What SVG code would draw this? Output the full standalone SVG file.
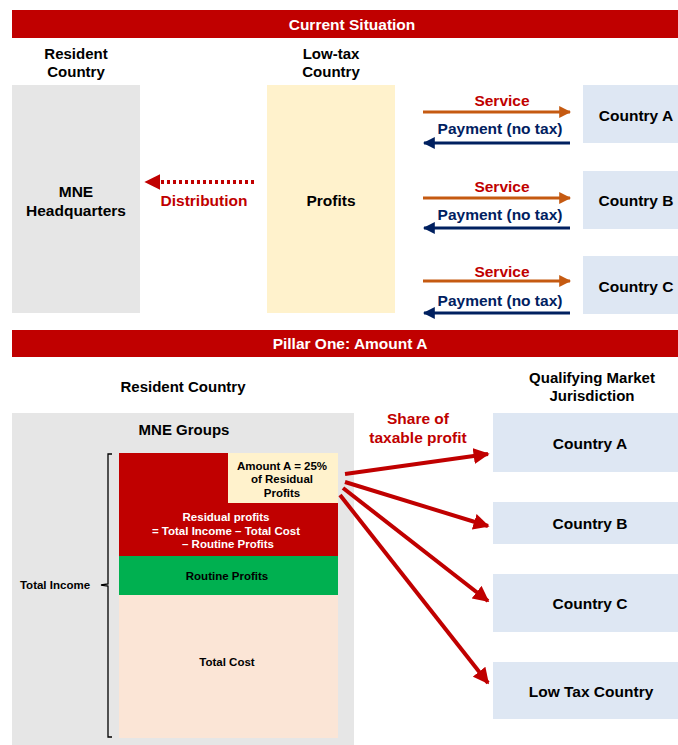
<svg xmlns="http://www.w3.org/2000/svg" width="678" height="745" viewBox="0 0 678 745">
<defs>
<style>
text{font-family:"Liberation Sans",Arial,sans-serif;font-weight:bold;text-anchor:middle;dominant-baseline:central}
.banner{fill:#C00000}
.bt{fill:#FFFFFF;font-size:15.5px}
.h{fill:#000;font-size:15px}
.lbl{fill:#000;font-size:15.5px}
.red{fill:#C00000;font-size:15.5px}
.navy{fill:#002060;font-size:15.5px}
.gray{fill:#E6E6E6}
.cty{fill:#DEE7F3}
.sm{font-size:11.5px}
</style>
<marker id="ho" viewBox="0 0 10 10" refX="9" refY="5" markerWidth="4" markerHeight="4" orient="auto" markerUnits="strokeWidth"><path d="M0,0 L10,5 L0,10 Z" fill="#C55A11"/></marker>
<marker id="hn" viewBox="0 0 10 10" refX="9" refY="5" markerWidth="4" markerHeight="4" orient="auto" markerUnits="strokeWidth"><path d="M0,0 L10,5 L0,10 Z" fill="#002060"/></marker>
<marker id="hr" viewBox="0 0 10 10" refX="9" refY="5" markerWidth="4" markerHeight="4" orient="auto" markerUnits="strokeWidth"><path d="M0,0 L10,5 L0,10 Z" fill="#C00000"/></marker>
</defs>
<rect width="678" height="745" fill="#FFFFFF"/>

<g id="banner-current">
<rect class="banner" x="12" y="10" width="666" height="28"/>
<text class="bt" x="352" y="24">Current Situation</text>
</g>
<g id="hdr-resident">
<text class="h" x="76" y="53">Resident</text>
<text class="h" x="76" y="71">Country</text>
</g>
<g id="hdr-lowtax">
<text class="h" x="331" y="53">Low-tax</text>
<text class="h" x="331" y="71">Country</text>
</g>
<g id="mne-hq">
<rect class="gray" x="12" y="85" width="128" height="228"/>
<text class="lbl" x="76" y="191">MNE</text>
<text class="lbl" x="76" y="210">Headquarters</text>
</g>
<g id="profits">
<rect fill="#FFF2CC" x="267" y="85" width="128" height="228"/>
<text class="lbl" x="331" y="200">Profits</text>
</g>
<g id="country-a-top">
<rect class="cty" x="583" y="85" width="95" height="58"/>
<text class="lbl" x="636" y="115">Country A</text>
</g>
<g id="country-b-top">
<rect class="cty" x="583" y="171" width="95" height="58"/>
<text class="lbl" x="636" y="200">Country B</text>
</g>
<g id="country-c-top">
<rect class="cty" x="583" y="256" width="95" height="58"/>
<text class="lbl" x="636" y="286">Country C</text>
</g>

<g id="connectors-top">
<line x1="254" y1="182" x2="146" y2="182" stroke="#C00000" stroke-width="4" stroke-dasharray="3,3" marker-end="url(#hr)"/>
<line x1="423" y1="112" x2="570" y2="112" stroke="#C55A11" stroke-width="3" marker-end="url(#ho)"/>
<line x1="570" y1="143" x2="424" y2="143" stroke="#002060" stroke-width="3" marker-end="url(#hn)"/>
<line x1="423" y1="198" x2="570" y2="198" stroke="#C55A11" stroke-width="3" marker-end="url(#ho)"/>
<line x1="570" y1="228" x2="424" y2="228" stroke="#002060" stroke-width="3" marker-end="url(#hn)"/>
<line x1="423" y1="281" x2="570" y2="281" stroke="#C55A11" stroke-width="3" marker-end="url(#ho)"/>
<line x1="570" y1="313" x2="424" y2="313" stroke="#002060" stroke-width="3" marker-end="url(#hn)"/>
<text class="red" x="204" y="200">Distribution</text>
<text class="red" x="502" y="100">Service</text>
<text class="navy" x="500" y="128">Payment (no tax)</text>
<text class="red" x="502" y="186">Service</text>
<text class="navy" x="500" y="214">Payment (no tax)</text>
<text class="red" x="502" y="271">Service</text>
<text class="navy" x="500" y="300">Payment (no tax)</text>
</g>

<g id="banner-pillar">
<rect class="banner" x="12" y="330" width="666" height="27"/>
<text class="bt" x="350" y="343">Pillar One: Amount A</text>
</g>
<g id="hdr-resident2">
<text class="h" x="183" y="386">Resident Country</text>
</g>
<g id="hdr-qmj">
<text class="h" x="592" y="377">Qualifying Market</text>
<text class="h" x="592" y="395">Jurisdiction</text>
</g>
<g id="mne-groups">
<rect class="gray" x="12" y="413" width="342" height="332"/>
<text class="h" x="184" y="429">MNE Groups</text>
<rect fill="#C00000" x="119" y="453" width="219" height="103"/>
<rect fill="#FFF2CC" x="228" y="453" width="110" height="50"/>
<text class="sm" fill="#000" x="282" y="466">Amount A = 25%</text>
<text class="sm" fill="#000" x="282" y="479">of Residual</text>
<text class="sm" fill="#000" x="282" y="493">Profits</text>
<text class="sm" fill="#FFFFFF" x="226" y="517">Residual profits</text>
<text class="sm" fill="#FFFFFF" x="226" y="531">= Total Income  – Total Cost</text>
<text class="sm" fill="#FFFFFF" x="228" y="544">– Routine  Profits</text>
<rect fill="#00B050" x="119" y="556" width="219" height="39"/>
<text class="sm" fill="#000" x="227" y="576">Routine  Profits</text>
<rect fill="#FBE5D6" x="119" y="595" width="219" height="143"/>
<text class="sm" fill="#000" x="227" y="662">Total Cost</text>
<path d="M112,454 H108 V584 L101,585 L108,586 V737 H112" fill="none" stroke="#000" stroke-width="1.3"/>
<text class="sm" fill="#000" x="55" y="585">Total Income</text>
</g>
<g id="qmj-a">
<rect class="cty" x="493" y="413" width="185" height="59"/>
<text class="lbl" x="590" y="443">Country A</text>
</g>
<g id="qmj-b">
<rect class="cty" x="493" y="502" width="185" height="42"/>
<text class="lbl" x="590" y="523">Country B</text>
</g>
<g id="qmj-c">
<rect class="cty" x="493" y="574" width="185" height="58"/>
<text class="lbl" x="590" y="603">Country C</text>
</g>
<g id="qmj-low">
<rect class="cty" x="493" y="662" width="185" height="57"/>
<text class="lbl" x="591" y="691">Low Tax Country</text>
</g>
<g id="connectors-bottom">
<text class="red" x="418" y="418">Share of</text>
<text class="red" x="418" y="437">taxable profit</text>
<line x1="345" y1="474" x2="488" y2="454" stroke="#C00000" stroke-width="4" marker-end="url(#hr)"/>
<line x1="345" y1="482" x2="488" y2="526" stroke="#C00000" stroke-width="4" marker-end="url(#hr)"/>
<line x1="343" y1="488" x2="488" y2="601" stroke="#C00000" stroke-width="4" marker-end="url(#hr)"/>
<line x1="340" y1="495" x2="488" y2="683" stroke="#C00000" stroke-width="4" marker-end="url(#hr)"/>
</g>
</svg>
